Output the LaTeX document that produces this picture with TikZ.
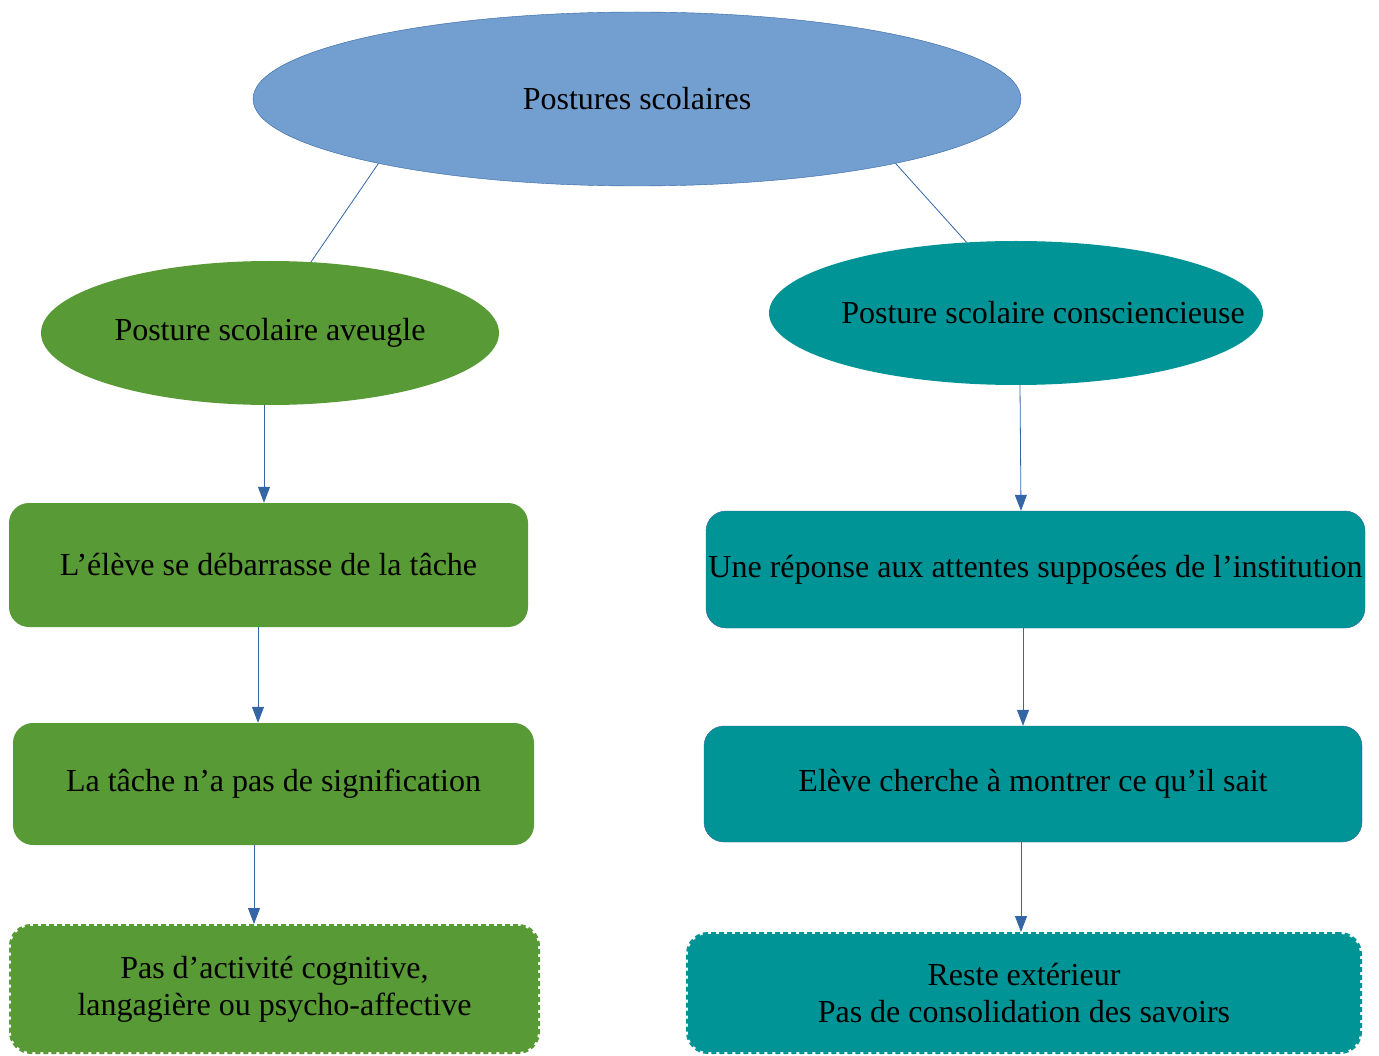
\documentclass[tikz,border=0pt]{standalone}
\usepackage{fontspec}
\setmainfont{Liberation Serif}
\usetikzlibrary{shapes.geometric,arrows.meta}
\definecolor{ciel}{HTML}{729FCF}
\definecolor{bleutrait}{HTML}{3465A4}
\definecolor{vert}{HTML}{589A35}
\definecolor{sarcelle}{HTML}{009496}
\begin{document}
\begin{tikzpicture}[x=1pt,y=-1pt,font=\fontsize{32}{37}\selectfont,
    ovale/.style={ellipse,inner sep=0pt},
    boite/.style={rectangle,rounded corners=20pt,inner sep=0pt,align=center},
    pointille/.style={boite,line width=4pt,dash pattern=on 5pt off 3pt},
    lien/.style={bleutrait,line width=0.8pt},
    fleche/.style={lien,-{Triangle[length=16pt,width=12pt]}}]
                \useasboundingbox (0,0) rectangle (1379,1056);
                \node[ovale,fill=ciel,draw=bleutrait,minimum width=768,minimum height=174] at (637, 99) (postures) {Postures scolaires};
                \node[ovale,fill=vert,minimum width=458,minimum height=144] at (270, 333) (aveugle) {Posture scolaire aveugle};
                \node[ovale,fill=sarcelle,minimum width=494,minimum height=144] at (1016, 313) (consc) {};
                \node at (1043, 313) {Posture scolaire consciencieuse};
                % colonne gauche
                \node[boite,fill=vert,minimum width=519,minimum height=124] at (268.5, 565) (debarrasse) {L’élève se débarrasse de la tâche};
                \node[boite,fill=vert,minimum width=521,minimum height=122] at (273.5, 784) (signif) {La tâche n’a pas de signification};
                \node[pointille,fill=vert,draw=vert,minimum width=527,minimum height=126] at (274.5, 989) (activite) {Pas d’activité cognitive,\\langagière ou psycho-affective};
                % colonne droite
                \node[boite,fill=sarcelle,draw=bleutrait,minimum width=659,minimum height=117] at (1035.5, 569.5) (reponse) {Une réponse aux attentes supposées de l’institution};
                \node[boite,fill=sarcelle,draw=bleutrait,minimum width=658,minimum height=116] at (1033, 784) (montrer) {Elève cherche à montrer ce qu’il sait};
                \node[pointille,fill=sarcelle,draw=sarcelle,minimum width=672,minimum height=118] at (1024, 993) (exterieur) {Reste extérieur\\Pas de consolidation des savoirs};
                \draw[lien] (postures.194.6) -- (aveugle.60.3);
                \draw[lien] (postures.-14.1) -- (consc.125.7);
                \draw[fleche] ([xshift=-6]aveugle.south) -- ([xshift=-4.5]debarrasse.north);
                \draw[fleche] ([xshift=-10.5]debarrasse.south) -- ([xshift=-15.5]signif.north);
                \draw[fleche] ([xshift=-19.5]signif.south) -- ([xshift=-20.5]activite.north);
                \draw[fleche] ([xshift=4]consc.south) -- ([xshift=-14.5]reponse.north);
                \draw[fleche] ([xshift=-12.5]reponse.south) -- ([xshift=-10]montrer.north);
                \draw[fleche] ([xshift=-12]montrer.south) -- ([xshift=-3]exterieur.north);

            \end{tikzpicture}
\end{document}
